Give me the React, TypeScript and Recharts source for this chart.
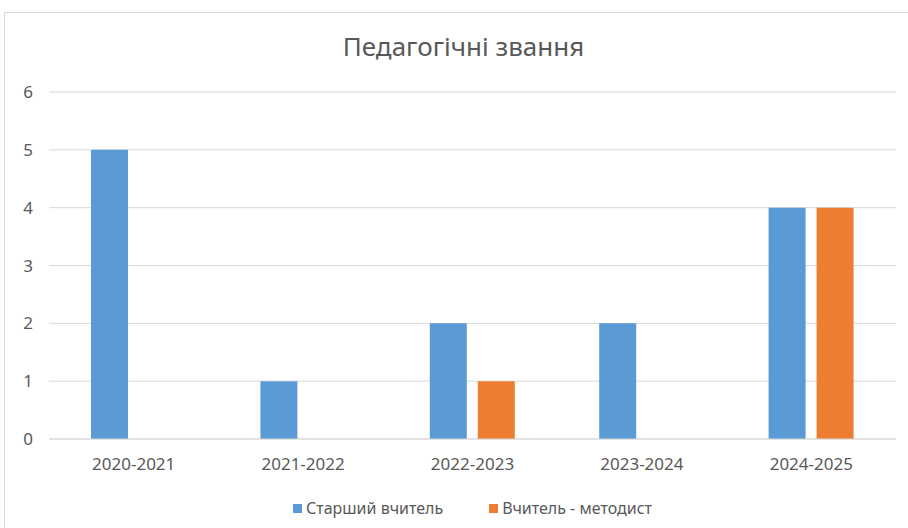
import { BarChart, Bar, XAxis, YAxis, CartesianGrid, Legend } from 'recharts';

const years = ['2020-2021', '2021-2022', '2022-2023', '2023-2024', '2024-2025'];
const seniorTeacher = [5, 1, 2, 2, 4];
const methodist = [0, 0, 1, 0, 4];
const yTicks = [0, 1, 2, 3, 4, 5, 6];

const series = [
  { key: 'senior', name: 'Старший вчитель', color: '#5B9BD5' },
  { key: 'methodist', name: 'Вчитель - методист', color: '#ED7D31' },
];

const data = years.map((year, i) => ({
  year,
  senior: seniorTeacher[i],
  methodist: methodist[i],
}));

const FONT = "'Noto Sans', 'Open Sans', sans-serif";
const TEXT = '#595959';

// keep legend in series order (recharts sorts by name otherwise)
function renderLegend() {
  return (
    <div
      style={{
        display: 'flex',
        justifyContent: 'center',
        gap: 46,
        marginTop: -2,
        paddingLeft: 44,
        fontFamily: FONT,
        fontSize: 16,
        color: TEXT,
      }}
    >
      {series.map((s) => (
        <div key={s.key} style={{ display: 'flex', alignItems: 'center' }}>
          <span style={{ width: 9, height: 9, background: s.color, display: 'inline-block', marginRight: 4 }} />
          <span>{s.name}</span>
        </div>
      ))}
    </div>
  );
}

export default function App() {
  return (
    <div
      style={{
        position: 'absolute',
        left: 4,
        top: 12,
        width: 910,
        height: 520,
        border: '1px solid #d9d9d9',
        background: '#fff',
        fontFamily: FONT,
      }}
    >
      <div
        style={{
          position: 'absolute',
          top: 15,
          left: 7,
          width: 903,
          textAlign: 'center',
          fontSize: 26,
          color: TEXT,
        }}
      >
        Педагогічні звання
      </div>
      <BarChart
        width={904}
        height={516}
        data={data}
        margin={{ top: 79, right: 13, left: 0, bottom: 0 }}
        barSize={37}
        barGap={11}
      >
        <CartesianGrid vertical={false} stroke="#d9d9d9" />
        <XAxis
          dataKey="year"
          axisLine={{ stroke: '#d9d9d9' }}
          tickLine={false}
          tickSize={0}
          tickMargin={19}
          height={60}
          tick={{ fill: TEXT, fontSize: 17, fontFamily: FONT }}
        />
        <YAxis
          width={44}
          domain={[0, 6]}
          ticks={yTicks}
          axisLine={false}
          tickLine={false}
          tickSize={0}
          tickMargin={16}
          tick={{ fill: TEXT, fontSize: 17, fontFamily: FONT }}
        />
        <Legend verticalAlign="bottom" height={30} content={renderLegend} />
        {series.map((s) => (
          <Bar key={s.key} dataKey={s.key} name={s.name} fill={s.color} isAnimationActive={false} />
        ))}
      </BarChart>
    </div>
  );
}
